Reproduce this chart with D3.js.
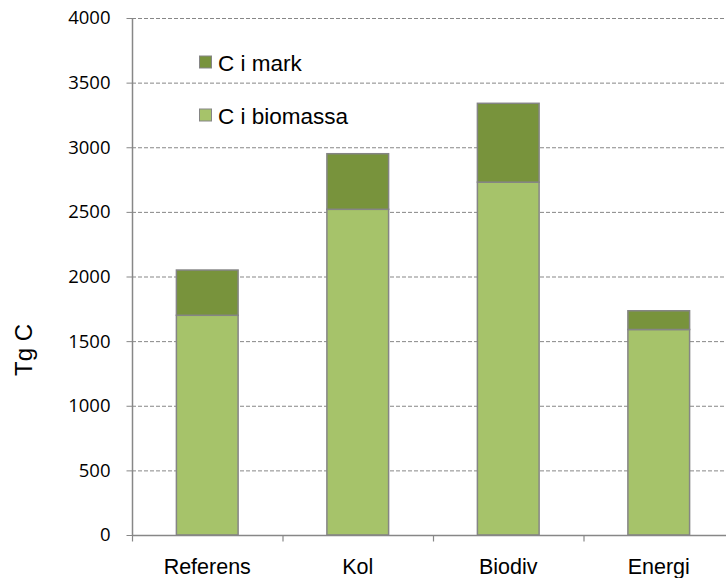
<!DOCTYPE html>
<html><head><meta charset="utf-8">
<script src="https://cdn.jsdelivr.net/npm/d3@7"></script>
<style>body{margin:0;background:#fff}</style>
</head><body>
<svg id="c" width="726" height="578"></svg>
<script>
const categories = ["Referens","Kol","Biodiv","Energi"];
const biomassa = [1700, 2520, 2730, 1590];
const mark = [350, 430, 610, 145];
const yTicks = [0,500,1000,1500,2000,2500,3000,3500,4000];
const seriesNames = ["C i biomassa","C i mark"];
const colors = {"C i biomassa":"#A6C36A","C i mark":"#78933C"};

const svg = d3.select("#c");
const pL = 132, pR = 734, pT = 18, pB = 535;
const x = d3.scaleBand().domain(categories).range([pL, pR]).paddingInner(0.59).paddingOuter(0.295);
const y = d3.scaleLinear().domain([0,4000]).range([pB, pT]);

// grid
svg.append("g").selectAll("line").data(yTicks.filter(d=>d>0)).join("line")
  .attr("x1", pL).attr("x2", 726).attr("y1", d=>y(d)+0.5).attr("y2", d=>y(d)+0.5)
  .attr("stroke","#878787").attr("stroke-width",1).attr("stroke-dasharray","4,2");

// bars
const data = categories.map((c,i)=>({cat:c, "C i biomassa":biomassa[i], "C i mark":mark[i]}));
const stack = d3.stack().keys(seriesNames)(data);
svg.append("g").selectAll("g").data(stack).join("g")
  .attr("fill", d=>colors[d.key])
  .selectAll("rect").data(d=>d).join("rect")
  .attr("x", d=>x(d.data.cat)).attr("width", x.bandwidth())
  .attr("y", d=>y(d[1])).attr("height", d=>y(d[0])-y(d[1]))
  .attr("stroke","#858585").attr("stroke-width",1.5);

// y axis
const yAxis = d3.axisLeft(y).tickValues(yTicks).tickFormat(d3.format("d")).tickSize(6).tickPadding(16);
const ga = svg.append("g").attr("transform",`translate(${pL+0.5},0)`).call(yAxis);
ga.select(".domain").attr("stroke","#878787").attr("stroke-width",1.5).attr("d",`M0,${pT}V${pB}`);
ga.selectAll(".tick line").attr("stroke","#878787");
ga.selectAll(".tick text").attr("font-family","Open Sans").attr("font-size",18.5).attr("fill","#000");

// x axis
const gx = svg.append("g").attr("transform",`translate(0,${pB+0.5})`);
gx.append("line").attr("x1",pL).attr("x2",726).attr("stroke","#878787").attr("stroke-width",1.5);
const step = x.step();
gx.selectAll("line.t").data(d3.range(0,categories.length+1)).join("line").attr("class","t")
  .attr("x1", i=>pL+i*step+0.5).attr("x2", i=>pL+i*step+0.5).attr("y1",0).attr("y2",6)
  .attr("stroke","#878787").attr("stroke-width",1.2);
gx.selectAll("text").data(categories).join("text")
  .attr("x", d=>x(d)+x.bandwidth()/2).attr("y", 38)
  .attr("text-anchor","middle").attr("font-family","Liberation Sans, Arial").attr("font-size",21.5).attr("fill","#000")
  .text(d=>d);

// y label
svg.append("text").attr("transform","translate(32,350) rotate(-90)")
  .attr("text-anchor","middle").attr("font-family","Liberation Sans, Arial").attr("font-size",24)
  .text("Tg C");

// legend
const legend = [{name:"C i mark", y:62},{name:"C i biomassa", y:115}];
const lg = svg.append("g").selectAll("g").data(legend).join("g")
  .attr("transform", d=>`translate(199,${d.y})`);
lg.append("rect").attr("x",0.5).attr("y",-6).attr("width",12).attr("height",12)
  .attr("fill", d=>colors[d.name]).attr("stroke","#858585").attr("stroke-width",1);
lg.append("text").attr("x",19).attr("y",9).attr("font-family","Liberation Sans, Arial").attr("font-size",22.5)
  .text(d=>d.name);
</script>
</body></html>
